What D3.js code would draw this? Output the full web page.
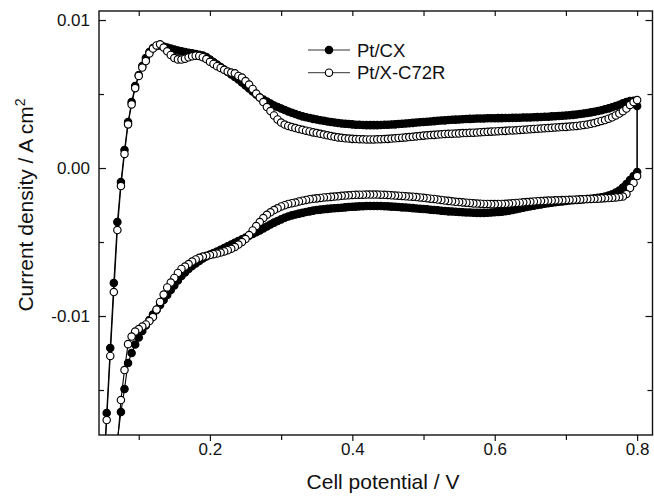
<!DOCTYPE html>
<html><head><meta charset="utf-8">
<script src="https://cdn.jsdelivr.net/npm/d3@7"></script>
<style>html,body{margin:0;padding:0;background:#fff;} svg{display:block;font-family:"Liberation Sans",Arial,sans-serif;}</style>
</head><body><svg id="chart" width="654" height="498"></svg>
<script>
// Cell potential (V) grid shared by both sweeps
const potential = [
0.050,0.055,0.060,0.065,0.070,0.075,0.080,0.085,0.090,0.095,
0.100,0.105,0.110,0.115,0.120,0.125,0.130,0.135,0.140,0.145,
0.150,0.155,0.160,0.165,0.170,0.175,0.180,0.185,0.190,0.195,
0.200,0.205,0.210,0.215,0.220,0.225,0.230,0.235,0.240,0.245,
0.250,0.255,0.260,0.265,0.270,0.275,0.280,0.285,0.290,0.295,
0.300,0.305,0.310,0.315,0.320,0.325,0.330,0.335,0.340,0.345,
0.350,0.355,0.360,0.365,0.370,0.375,0.380,0.385,0.390,0.395,
0.400,0.405,0.410,0.415,0.420,0.425,0.430,0.435,0.440,0.445,
0.450,0.455,0.460,0.465,0.470,0.475,0.480,0.485,0.490,0.495,
0.500,0.505,0.510,0.515,0.520,0.525,0.530,0.535,0.540,0.545,
0.550,0.555,0.560,0.565,0.570,0.575,0.580,0.585,0.590,0.595,
0.600,0.605,0.610,0.615,0.620,0.625,0.630,0.635,0.640,0.645,
0.650,0.655,0.660,0.665,0.670,0.675,0.680,0.685,0.690,0.695,
0.700,0.705,0.710,0.715,0.720,0.725,0.730,0.735,0.740,0.745,
0.750,0.755,0.760,0.765,0.770,0.775,0.780,0.785,0.790,0.795,
0.800];

// Pt/CX current density (A cm-2), anodic (forward) sweep
const cxForward = [
-0.02108,-0.01655,-0.01216,-0.00777,-0.00365,-0.00095,0.00122,0.00311,0.00446,0.00554,
0.00628,0.00689,0.00743,0.00784,0.00811,0.00824,0.00828,0.00821,0.00814,0.00807,
0.00801,0.00794,0.00789,0.00784,0.00779,0.00775,0.0077,0.00766,0.0076,0.0075,
0.00733,0.00716,0.00699,0.00682,0.00666,0.00649,0.00632,0.00615,0.00598,0.00578,
0.00557,0.00537,0.00517,0.00497,0.00476,0.00463,0.00449,0.00436,0.00422,0.00412,
0.00402,0.00392,0.00382,0.00373,0.00365,0.00357,0.00349,0.00343,0.00338,0.00332,
0.00328,0.00323,0.00319,0.00315,0.00311,0.00307,0.00304,0.00301,0.00299,0.00297,
0.00295,0.00293,0.00292,0.00291,0.0029,0.0029,0.0029,0.0029,0.00291,0.00292,
0.00293,0.00294,0.00295,0.00297,0.00299,0.00301,0.00303,0.00305,0.00307,0.00309,
0.00311,0.00313,0.00315,0.00317,0.00319,0.00321,0.00322,0.00324,0.00326,0.00327,
0.00328,0.0033,0.00331,0.00332,0.00333,0.00334,0.00334,0.00335,0.00336,0.00336,
0.00336,0.00337,0.00337,0.00338,0.00338,0.00339,0.00339,0.0034,0.00341,0.00341,
0.00342,0.00343,0.00344,0.00345,0.00346,0.00347,0.00349,0.0035,0.00351,0.00353,
0.00355,0.00357,0.00359,0.00362,0.00365,0.00368,0.00372,0.00376,0.0038,0.00385,
0.0039,0.00397,0.00403,0.00411,0.00419,0.00428,0.00437,0.00446,0.00453,0.00455,
0.00419];

// Pt/CX, cathodic (reverse) sweep
const cxReverse = [
null,null,null,-0.02108,-0.01838,-0.01649,-0.01493,-0.01318,-0.0125,-0.01193,
-0.01145,-0.01101,-0.01064,-0.01027,-0.0099,-0.00959,-0.00926,-0.00892,-0.00858,-0.00824,
-0.00794,-0.0076,-0.0073,-0.00706,-0.00682,-0.00662,-0.00645,-0.00628,-0.00611,-0.00598,
-0.00584,-0.00574,-0.00564,-0.00552,-0.00541,-0.00528,-0.00517,-0.00505,-0.00493,-0.00481,
-0.0047,-0.00457,-0.00446,-0.00434,-0.00422,-0.00409,-0.00395,-0.00382,-0.00369,-0.00358,
-0.00347,-0.00336,-0.00328,-0.0032,-0.00314,-0.00308,-0.00303,-0.00297,-0.00293,-0.00288,
-0.00284,-0.00281,-0.00278,-0.00276,-0.00274,-0.00272,-0.0027,-0.00268,-0.00266,-0.00264,
-0.00262,-0.00261,-0.00259,-0.00258,-0.00257,-0.00257,-0.00257,-0.00257,-0.00257,-0.00258,
-0.00259,-0.00261,-0.00262,-0.00264,-0.00266,-0.00267,-0.00269,-0.00271,-0.00273,-0.00275,
-0.00277,-0.00279,-0.00282,-0.00284,-0.00286,-0.00289,-0.00291,-0.00293,-0.00294,-0.00296,
-0.00297,-0.00299,-0.003,-0.00301,-0.00302,-0.00303,-0.00303,-0.00303,-0.00302,-0.00301,
-0.00299,-0.00297,-0.00295,-0.00292,-0.00289,-0.00284,-0.00279,-0.00274,-0.00269,-0.00264,
-0.00259,-0.00254,-0.0025,-0.00246,-0.00242,-0.00238,-0.00234,-0.00231,-0.00228,-0.00226,
-0.00223,-0.0022,-0.00218,-0.00216,-0.00214,-0.00211,-0.00209,-0.00207,-0.00205,-0.00201,
-0.00198,-0.00193,-0.00186,-0.00178,-0.00166,-0.00152,-0.00132,-0.00108,-0.00081,-0.00054,
-0.00027];

// Pt/X-C72R, anodic (forward) sweep
const xcForward = [
-0.0214,-0.01703,-0.0127,-0.00838,-0.00419,-0.00122,0.00095,0.00295,0.0043,0.0054,
0.00622,0.00679,0.00723,0.00774,0.00807,0.00828,0.00836,0.00814,0.00789,0.00764,
0.00743,0.00734,0.00733,0.00739,0.00748,0.00755,0.00759,0.00757,0.00749,0.00736,
0.00718,0.00703,0.00688,0.00676,0.00664,0.00652,0.00645,0.0064,0.00622,0.00611,
0.00588,0.00564,0.00534,0.00503,0.00476,0.00446,0.00412,0.00385,0.00355,0.00328,
0.00307,0.00294,0.00284,0.00277,0.0027,0.00264,0.00258,0.00252,0.00247,0.00241,
0.00236,0.00231,0.00226,0.00221,0.00216,0.00211,0.00207,0.00204,0.00201,0.00199,
0.00197,0.00196,0.00195,0.00194,0.00193,0.00193,0.00193,0.00194,0.00195,0.00196,
0.00197,0.00199,0.00201,0.00203,0.00205,0.00207,0.00209,0.00211,0.00214,0.00216,
0.00219,0.00221,0.00223,0.00224,0.00226,0.00228,0.0023,0.00231,0.00232,0.00233,
0.00234,0.00236,0.00236,0.00238,0.00239,0.0024,0.00242,0.00243,0.00245,0.00246,
0.00247,0.00249,0.0025,0.00251,0.00253,0.00254,0.00255,0.00257,0.00259,0.0026,
0.00262,0.00264,0.00266,0.00267,0.00269,0.0027,0.00272,0.00274,0.00275,0.00277,
0.00278,0.0028,0.00282,0.00284,0.00287,0.00291,0.00294,0.00299,0.00304,0.00311,
0.00318,0.00324,0.00333,0.00343,0.00355,0.00368,0.00384,0.00402,0.00426,0.00446,
0.00459];

// Pt/X-C72R, cathodic (reverse) sweep
const xcReverse = [
null,null,null,-0.02176,-0.01872,-0.01568,-0.01365,-0.0119,-0.01139,-0.01105,
-0.01088,-0.01071,-0.01057,-0.01034,-0.01007,-0.00956,-0.00905,-0.00855,-0.00807,-0.00774,
-0.00743,-0.00709,-0.00682,-0.00666,-0.00649,-0.00632,-0.00618,-0.00607,-0.00598,-0.00593,
-0.00588,-0.00582,-0.00578,-0.00571,-0.00564,-0.00555,-0.00546,-0.00534,-0.00517,-0.005,
-0.0048,-0.00453,-0.00422,-0.00392,-0.00365,-0.00338,-0.00316,-0.00299,-0.00284,-0.00272,
-0.0026,-0.00251,-0.00243,-0.00238,-0.00233,-0.00226,-0.00221,-0.00216,-0.00211,-0.00208,
-0.00205,-0.00202,-0.00199,-0.00197,-0.00195,-0.00193,-0.00191,-0.00188,-0.00186,-0.00184,
-0.00182,-0.00181,-0.0018,-0.0018,-0.00179,-0.00179,-0.00179,-0.00179,-0.0018,-0.00181,
-0.00182,-0.00184,-0.00186,-0.00187,-0.00189,-0.00191,-0.00193,-0.00194,-0.00196,-0.00199,
-0.00201,-0.00204,-0.00207,-0.00209,-0.00213,-0.00216,-0.0022,-0.00222,-0.00225,-0.00228,
-0.0023,-0.00232,-0.00234,-0.00236,-0.00239,-0.0024,-0.00241,-0.00243,-0.00243,-0.00244,
-0.00244,-0.00243,-0.00243,-0.00242,-0.0024,-0.00238,-0.00236,-0.00234,-0.00232,-0.0023,
-0.00228,-0.00226,-0.00224,-0.00223,-0.00222,-0.0022,-0.0022,-0.00218,-0.00218,-0.00217,
-0.00216,-0.00215,-0.00214,-0.00213,-0.00212,-0.00211,-0.0021,-0.00209,-0.00208,-0.00207,
-0.00205,-0.00204,-0.00203,-0.00201,-0.00199,-0.00196,-0.00193,-0.00176,-0.00135,-0.00101,
-0.00054];

const seriesNames = ["Pt/CX", "Pt/X-C72R"];
const xTicks = [0.2, 0.4, 0.6, 0.8];
const xMinorTicks = [0.1, 0.3, 0.5, 0.7];
const yTicks = [-0.01, 0, 0.01];
const yMinorTicks = [-0.015, -0.005, 0.005];
const xTitle = "Cell potential / V";
const yTitle = "Current density / A cm";
const yTitleSup = "2";

const svg = d3.select("#chart");
const L = 99, R = 652.5, T = 11, B = 435;
const x = d3.scaleLinear().domain([0.0442, 0.8216]).range([L, R]);
const y = d3.scaleLinear().domain([-0.01804, 0.01061]).range([B, T]);
const ink = "#111";

svg.append("rect").attr("width", 654).attr("height", 498).attr("fill", "#fff");

svg.append("defs").append("clipPath").attr("id", "clip")
  .append("rect").attr("x", L).attr("y", T).attr("width", R - L).attr("height", B - T);

function loop(fwd, rev) {
  const pts = [];
  potential.forEach((v, i) => { if (fwd[i] != null) pts.push([v, fwd[i]]); });
  for (let i = potential.length - 1; i >= 0; i--) if (rev[i] != null) pts.push([potential[i], rev[i]]);
  return pts;
}
const series = [
  { name: seriesNames[0], pts: loop(cxForward, cxReverse), fill: "#000" },
  { name: seriesNames[1], pts: loop(xcForward, xcReverse), fill: "#fff" }
];

const plot = svg.append("g").attr("clip-path", "url(#clip)");
const line = d3.line().x(d => x(d[0])).y(d => y(d[1]));
const r = 3.7;
series.forEach(s => {
  const g = plot.append("g");
  g.append("path").datum(s.pts).attr("d", line).attr("fill", "none").attr("stroke", "#000").attr("stroke-width", 1.1);
  g.selectAll("circle").data(s.pts).join("circle")
    .attr("cx", d => x(d[0])).attr("cy", d => y(d[1])).attr("r", r)
    .attr("fill", s.fill).attr("stroke", "#000").attr("stroke-width", 1.15);
});

// axes
function styleAxis(g) {
  g.select(".domain").remove();
  g.selectAll("line").attr("stroke", ink).attr("stroke-width", 1.2);
  g.selectAll("text").attr("fill", ink).attr("font-size", 17).attr("font-family", '"Liberation Sans",Arial,sans-serif');
}
svg.append("g").attr("transform", `translate(0,${B})`)
  .call(d3.axisBottom(x).tickValues(xTicks).tickSize(6).tickPadding(2).tickFormat(d => d.toFixed(1))).call(styleAxis);
svg.append("g").attr("transform", `translate(0,${B})`)
  .call(d3.axisBottom(x).tickValues(xMinorTicks).tickSize(5).tickFormat("")).call(styleAxis);
svg.append("g").attr("transform", `translate(0,${T})`)
  .call(d3.axisTop(x).tickValues(xTicks.concat(xMinorTicks)).tickSize(-5).tickFormat("")).call(styleAxis);
svg.append("g").attr("transform", `translate(${L},0)`)
  .call(d3.axisLeft(y).tickValues(yTicks).tickSize(-7).tickPadding(9).tickFormat(d => d.toFixed(2))).call(styleAxis);
svg.append("g").attr("transform", `translate(${L},0)`)
  .call(d3.axisLeft(y).tickValues(yMinorTicks).tickSize(-5).tickFormat("")).call(styleAxis);
svg.append("g").attr("transform", `translate(${R},0)`)
  .call(d3.axisRight(y).tickValues(yTicks).tickSize(-7).tickFormat("")).call(styleAxis);
svg.append("g").attr("transform", `translate(${R},0)`)
  .call(d3.axisRight(y).tickValues(yMinorTicks).tickSize(-5).tickFormat("")).call(styleAxis);

svg.append("rect").attr("x", L).attr("y", T).attr("width", R - L).attr("height", B - T)
  .attr("fill", "none").attr("stroke", ink).attr("stroke-width", 1.4);

// titles
svg.append("text").attr("x", 383).attr("y", 489).attr("text-anchor", "middle")
  .attr("font-size", 21).attr("fill", ink).text(xTitle);
const yt = svg.append("text").attr("transform", "translate(33,205) rotate(-90)")
  .attr("text-anchor", "middle").attr("font-size", 21).attr("fill", ink);
yt.append("tspan").text(yTitle);
yt.append("tspan").attr("dy", -8).attr("font-size", 14).text(yTitleSup);

// legend
const leg = svg.append("g");
series.forEach((s, i) => {
  const cy = 50 + i * 22.7;
  leg.append("line").attr("x1", 308).attr("x2", 350).attr("y1", cy).attr("y2", cy)
    .attr("stroke", "#333").attr("stroke-width", 1);
  leg.append("circle").attr("cx", 329).attr("cy", cy).attr("r", r)
    .attr("fill", s.fill).attr("stroke", "#000").attr("stroke-width", 1.15);
  leg.append("text").attr("x", 357).attr("y", cy + 6.5).attr("font-size", 18.5).attr("fill", ink).text(s.name);
});
</script></body></html>
